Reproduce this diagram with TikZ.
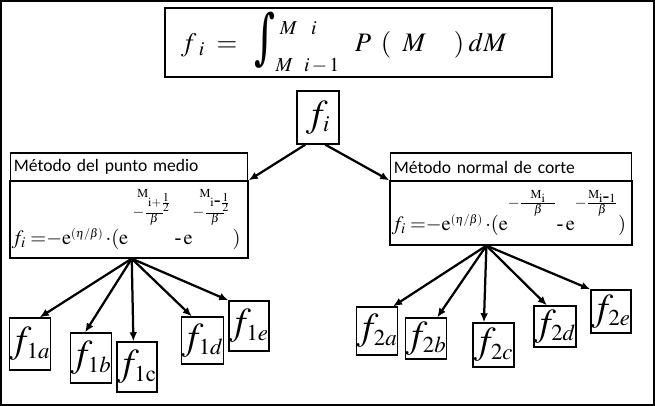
\documentclass[tikz,border=0pt]{standalone}
\usepackage{graphicx}
\usepackage{mathptmx}
\usepackage{fontspec}
\setmainfont{Liberation Serif}
\newfontfamily\calibri{Carlito}
\newfontfamily\intfont{DejaVu Serif}
\usetikzlibrary{arrows.meta}

\tikzset{
  box/.style={draw, line width=0.9pt, inner sep=0pt, fill=white},
  fbox/.style={box, minimum width=1cm, font=\fontsize{27}{30}\selectfont},
  head/.style={box, inner xsep=2.5pt, align=left, font=\calibri\fontsize{12.5}{14}\selectfont},
  body/.style={box, inner xsep=1pt, font=\fontsize{14.5}{16}\selectfont},
}
% raised exponent: raise, width of bar, index of M
\newcommand{\expo}[3]{\raisebox{#1}{$\scriptstyle-\frac{\makebox[#2]{$\scriptscriptstyle\mathrm{M}_{#3}$}}{\beta}$}}
\newcommand{\ebeta}{\mathrm{e}^{\mbox{\fontsize{8.5}{10}\selectfont$(\eta/\beta)$}}}
\newcommand{\bigint}{\raisebox{-12pt}{\resizebox{15pt}{40pt}{\raisebox{\depth}{\intfont ∫}}}}

\begin{document}
\begin{tikzpicture}[x=0.025cm,y=-0.025cm,>={Latex[length=6.5pt,width=5.5pt]}]
\useasboundingbox (0,0) rectangle (655,406);
\draw[line width=1.5pt] (1,1) rectangle (654,405);

% top formula
\node[box, minimum width=9.675cm, minimum height=1.725cm, text width=252.3pt,
  inner xsep=11pt, align=left, font=\fontsize{19}{21}\selectfont] (eq) at (358.5,42.5)
  {$f_{\hspace{4pt}i}\hspace{4pt}=\hspace{8pt}\bigint\rlap{\hspace{3pt}\raisebox{12pt}{$\scriptstyle M\hspace{10pt}i$}}\raisebox{-14pt}{$\scriptstyle M\hspace{8pt}i\,-\,1$}\hspace{11pt}P\hspace{7pt}(\hspace{8pt}M\hspace{20pt})\hspace{3pt}dM$};

\node[fbox, minimum width=1.05cm, minimum height=1.325cm] (fi) at (318,117.5) {$f_{\scriptscriptstyle i}$};

% left method
\node[head, text width=163.7pt, minimum height=0.7cm] (lhead) at (129,167) {Método del punto medio};
\node[body, minimum width=5.95cm, minimum height=1.925cm] (lbody) at (129,219.5)
  {\hbox to 166.7pt{$f_i\;{=}{-}\ebeta\,{\cdot}(\mathrm{e}\hspace{3pt}\expo{20pt}{12pt}{\mathrm{i}+\frac{1}{2}}$\hskip 0pt plus 3fill$\mbox{-}\,\mathrm{e}\expo{20pt}{13pt}{\mathrm{i}\mbox{-}\frac{1}{2}}$\hskip 0pt plus 2fill$)$\hspace{4pt}}};

% right method
\node[head, text width=166.5pt, minimum height=0.7cm] (rhead) at (511,167) {Método normal de corte};
\node[body, minimum width=6.05cm, minimum height=1.6cm] (rbody) at (511,213)
  {\hbox to 169.5pt{$f_i\;{=}{-}\ebeta\,{\cdot}(\mathrm{e}\expo{17pt}{24pt}{\mathrm{i}}$\hskip 0pt plus 1fill$\mbox{-}\,\mathrm{e}\expo{17pt}{20pt}{\mathrm{i}\mbox{-}1}$\hskip 0pt plus 1fill$)$\hspace{3pt}}};

\node[fbox, minimum height=1.3cm] (f1a) at (30,344) {$f_{\scriptscriptstyle 1a}$};
\node[fbox, minimum height=1.25cm] (f1b) at (91,358) {$f_{\scriptscriptstyle 1b}$};
\node[fbox, minimum height=1.25cm] (f1c) at (137,367) {$f_{\scriptscriptstyle 1\mathrm{c}}$};
\node[fbox, minimum width=1.025cm, minimum height=1.175cm] (f1d) at (202.5,340.5) {$f_{\scriptscriptstyle 1d}$};
\node[fbox, minimum height=1.25cm] (f1e) at (249,326) {$f_{\scriptscriptstyle 1e}$};

\node[fbox, minimum height=1.2cm] (f2a) at (377,331) {$f_{\scriptscriptstyle 2a}$};
\node[fbox, minimum height=1.025cm] (f2b) at (426,338.5) {$f_{\scriptscriptstyle 2b}$};
\node[fbox, minimum width=1.025cm, minimum height=1.1cm] (f2c) at (493.5,345) {$f_{\scriptscriptstyle 2c}$};
\node[fbox, minimum height=1.025cm] (f2d) at (555,326.5) {$f_{\scriptscriptstyle 2d}$};
\node[fbox, minimum height=1.075cm] (f2e) at (611,311.5) {$f_{\scriptscriptstyle 2e}$};

\path[draw,line width=1.6pt,->] (fi.245) -- (lbody.north east);
\path[draw,line width=1.6pt,->] (fi.285) -- (rbody.north west);

\path[draw,line width=1.6pt,->] (lbody.274) -- (f1a.70);
\path[draw,line width=1.6pt,->] (lbody.274) -- (f1b.103);
\path[draw,line width=1.6pt,->] (lbody.274) -- (f1c.98);
\path[draw,line width=1.6pt,->] (lbody.274) -- (f1d.114);
\path[draw,line width=1.6pt,->] (lbody.274) -- (f1e.north west);

\path[draw,line width=1.6pt,->] (rbody.233) -- (f2a.57);
\path[draw,line width=1.6pt,->] (rbody.233) -- (f2b.62);
\path[draw,line width=1.6pt,->] (rbody.233) -- (f2c.113);
\path[draw,line width=1.6pt,->] (rbody.233) -- (f2d.111);
\path[draw,line width=1.6pt,->] (rbody.233) -- (f2e.north west);
\end{tikzpicture}
\end{document}
